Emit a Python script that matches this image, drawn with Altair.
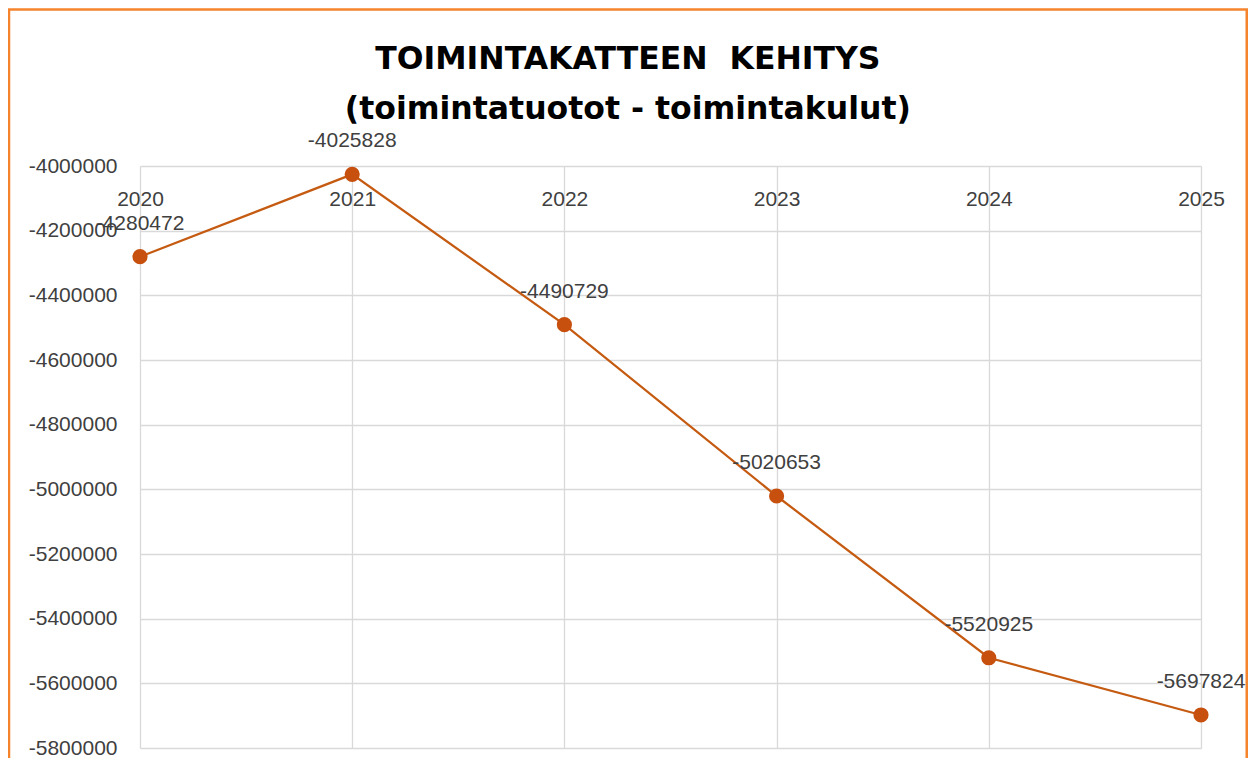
import altair as alt
import pandas as pd

years = ["2020", "2021", "2022", "2023", "2024", "2025"]
values = [-4280472, -4025828, -4490729, -5020653, -5520925, -5697824]
y_ticks = [-4000000, -4200000, -4400000, -4600000, -4800000,
           -5000000, -5200000, -5400000, -5600000, -5800000]
title_lines = ["TOIMINTAKATTEEN\u00a0 KEHITYS", "(toimintatuotot - toimintakulut)"]

df = pd.DataFrame({"year": years, "value": values,
                   "label": [str(v) for v in values]})

LINE_COLOR = "#C55A11"
POINT_COLOR = "#C8500F"
TEXT_COLOR = "#404040"
GRID_COLOR = "#D9D9D9"
BORDER_COLOR = "#F5842C"
FONT = "Liberation Sans"
FS = 21

W, H = 1061, 582
PAD = {"left": 132, "top": 158, "right": 47, "bottom": 10}

x_enc = alt.X("year:O",
              scale=alt.Scale(type="point", padding=0),
              axis=alt.Axis(orient="top", title=None, domain=False, ticks=False,
                            labelAngle=0, labelPadding=-39, labelBaseline="alphabetic",
                            labelFontSize=FS, labelFont=FONT, labelColor=TEXT_COLOR,
                            grid=True, gridColor=GRID_COLOR, gridWidth=1.3))
y_enc = alt.Y("value:Q",
              scale=alt.Scale(domain=[-5800000, -4000000], nice=False, zero=False),
              axis=alt.Axis(values=y_ticks, labelExpr="'' + datum.value", title=None,
                            domain=False, ticks=False, labelPadding=23,
                            labelFontSize=FS, labelFont=FONT, labelColor=TEXT_COLOR,
                            grid=True, gridColor=GRID_COLOR, gridWidth=1.3))

base = alt.Chart(df).encode(x=x_enc, y=y_enc)

line = base.mark_line(color=LINE_COLOR, strokeWidth=2.25)
points = base.mark_circle(size=230, color=POINT_COLOR, opacity=1)
labels = base.mark_text(dy=-27, baseline="alphabetic", fontSize=FS, font=FONT,
                        color=TEXT_COLOR).encode(text="label:N")

border = alt.Chart(pd.DataFrame({"b": [0]})).mark_rect(
    fillOpacity=0, stroke=BORDER_COLOR, strokeWidth=2.5
).encode(x=alt.value(-PAD["left"] + 1), x2=alt.value(W + PAD["right"] - 1.25),
         y=alt.value(-PAD["top"] + 1.5), y2=alt.value(H + 40))

chart = alt.layer(border, line, points, labels).properties(
    width=W, height=H,
    autosize=alt.AutoSizeParams(type="none"),
    padding=PAD,
    background="white",
    title=alt.TitleParams(title_lines, font="DejaVu Sans", fontSize=31.5, fontWeight="bold",
                          color="black", lineHeight=50, anchor="middle", frame="bounds",
                          offset=-117),
).configure_view(stroke=None)

chart.save("out.html", embed_options={"renderer": "svg", "actions": False})
